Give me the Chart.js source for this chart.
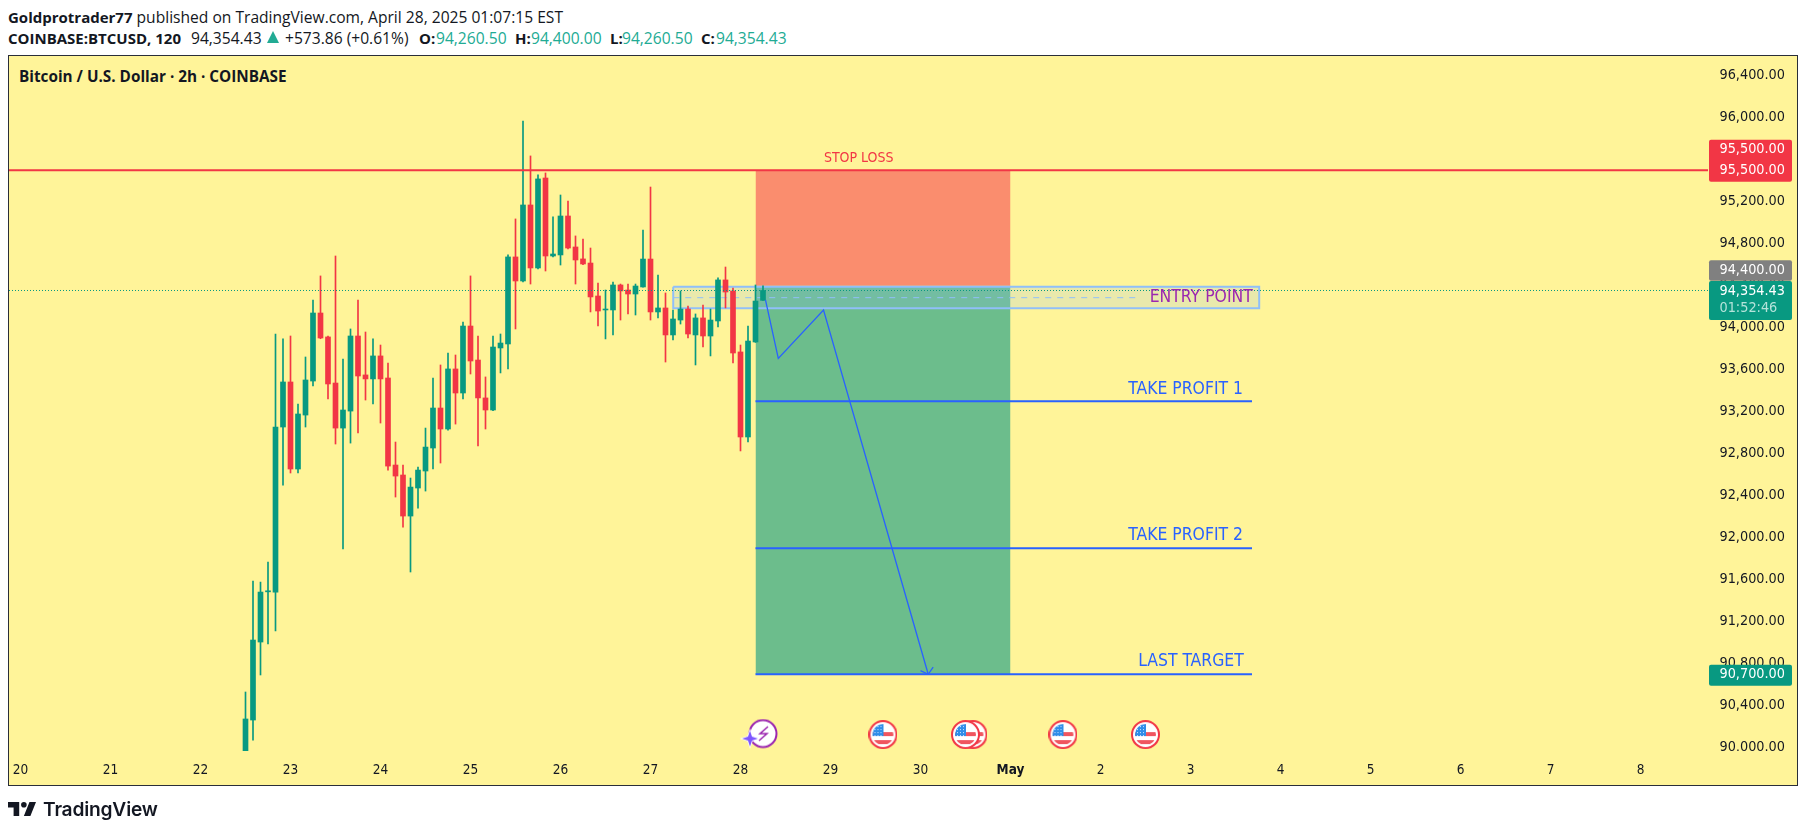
<!DOCTYPE html>
<html>
<head>
<meta charset="utf-8">
<title>BTCUSD</title>
<script src="https://cdn.jsdelivr.net/npm/chart.js"></script>
<style>
	html, body { margin: 0; padding: 0; background: #fff; overflow: hidden; width: 1807px; height: 833px; }
	body { font-family: "DejaVu Sans", sans-serif; color: #131722; }
	#pane { position: absolute; left: 8px; top: 55px; width: 1790px; height: 731px; box-sizing: border-box; border: 1.5px solid #2a2e39; background: #fff499; }
	#chart { position: absolute; left: 0; top: 0; }
	.row { position: absolute; white-space: nowrap; font-family: "Open Sans", sans-serif; font-size: 15.6px; line-height: 20px; }
	.row b { font-size: 15px; }
	.row span { position: absolute; top: 0; }
	.up { color: #22ab94; }
	#tri { width: 0; height: 0; border-left: 6.5px solid transparent; border-right: 6.5px solid transparent; border-bottom: 12px solid #22ab94; top: 3px !important; }
	#pair { position: absolute; left: 19px; top: 66px; font-family: "Open Sans", sans-serif; font-weight: 700; font-size: 15.3px; line-height: 20px; white-space: nowrap; }
	#tvlogo { position: absolute; left: 8px; top: 802px; }
	#tvname { position: absolute; left: 43px; top: 795px; font-family: Inter, sans-serif; font-weight: 600; font-size: 19.2px; line-height: 28px; color: #131722; letter-spacing: -0.2px; }
</style>
</head>
<body>
<div id="pane"></div>
<div class="row" style="left:8px;top:7px"><b>Goldprotrader77</b> published on TradingView.com, April 28, 2025 01:07:15 EST</div>
<div class="row" style="left:8px;top:28px;width:800px;height:20px">
	<span style="left:0"><b>COINBASE:BTCUSD, 120</b></span>
	<span style="left:183px">94,354.43</span>
	<span id="tri" style="left:259px"></span>
	<span style="left:277px">+573.86 (+0.61%)</span>
	<span style="left:411px"><b>O:</b></span><span class="up" style="left:428px">94,260.50</span>
	<span style="left:507px"><b>H:</b></span><span class="up" style="left:523px">94,400.00</span>
	<span style="left:602px"><b>L:</b></span><span class="up" style="left:614px">94,260.50</span>
	<span style="left:693px"><b>C:</b></span><span class="up" style="left:708px">94,354.43</span>
</div>
<div id="pair">Bitcoin / U.S. Dollar · 2h · COINBASE</div>
<canvas id="chart" width="1807" height="833"></canvas>
<svg id="tvlogo" width="28" height="14" viewBox="2 6 30 15"><path fill="#131722" d="M14 6H2v6h6v9h6V6Zm12 15h-7l6-15h7l-6 15Zm-7-9a3 3 0 1 0 0-6 3 3 0 0 0 0 6Z"/></svg>
<div id="tvname">TradingView</div>
<script>
// Candles are 2h apart, index 0 is the start of the 20th
var firstCandle = 30;
var opens = [89950,90263,91006,91484,91482,93054,93483,92654,93168,93492,94140,93912,93473,93044,93206,93921,93550,93512,93731,93521,
	92692,92597,92206,92473,92635,92854,93235,93035,93607,93378,94016,93692,93331,93216,93807,93845,94674,94445,95169,94569,
	95426,94683,94693,95064,94769,94655,94616,94302,94169,94169,94407,94359,94321,94388,94654,94150,94188,93931,94073,94178,
	93931,94093,93921,94064,94455,94350,93769,92959,93864,94260.5];
var highs = [90530,91587,91577,91768,93940,93893,93921,93273,93721,94264,94493,93921,94683,93702,93988,94264,93959,93893,93835,93664,
	92911,92692,92568,92673,93044,93521,93645,93759,93740,94054,94493,93921,93531,93921,93940,94693,95036,95969,95636,95455,
	95474,95055,95264,95207,94874,94845,94759,94426,94359,94435,94416,94416,94416,94931,95340,94502,94331,94169,94350,94207,
	94131,94216,94178,94474,94578,94378,93835,94016,94407,94400];
var lows = [89900,90072,90692,90987,91111,92501,92616,92616,93054,93445,93895,93321,92892,91892,92901,92997,93311,93273,93092,92644,
	92387,92101,91673,92282,92444,92654,92711,93025,93082,93321,93559,92873,93035,93210,93569,93607,93988,94435,94416,94560,
	94540,94674,94597,94750,94416,94600,94150,94016,93893,93931,94073,94131,94121,94385,94073,94093,93673,93883,94035,93902,
	93645,93816,93731,94007,94188,93664,92826,92911,93860,94260.5];
var closes = [90273,91025,91482,91494,93054,93483,92654,93178,93502,94140,93902,93464,93044,93216,93921,93540,93512,93731,93512,92682,
	92587,92206,92482,92644,92863,93235,93035,93607,93378,94016,93683,93331,93216,93816,93854,94674,94445,95169,94569,95417,
	94683,94702,95064,94759,94645,94607,94293,94159,94178,94407,94350,94321,94397,94654,94150,94188,93931,94083,94178,93940,
	94093,93921,94073,94455,94340,93759,92959,93873,94254,94354.43];

var tickLabels = ['20','21','22','23','24','25','26','27','28','29','30','May','2','3','4','5','6','7','8'];

// Drawn levels and positions, in price and candle index
var stopLoss = 95500, entryLevel = 94400, lastTarget = 90700, takeProfit1 = 93300, takeProfit2 = 91900, lastPrice = 94354.43;
var zoneStart = 98, zoneEnd = 132, targetEnd = 164.2;
var entryBoxX = [87.03, 165.16], entryBoxY = [94390, 94185], entryMid = 94286, entryMidEnd = 149.3;
var pathX = [99.33, 101.04, 107.07, 121.03], pathY = [94264, 93708, 94169, 90699];
var arrowX = [120, 121.03, 121.69], arrowY = [90733, 90699, 90766];
var noteTexts = ['STOP LOSS', 'ENTRY POINT', 'TAKE PROFIT 1', 'TAKE PROFIT 2', 'LAST TARGET'];
var noteX = [116.4, 164.3, 163, 163, 163.1], notePrices = [95612, 94290, 93415, 92024, 90816];
var eventX = [115, 127, 126, 139, 150], eventFlash = 99, eventPrice = 90124;

var textFont = '"DejaVu Sans Condensed", "DejaVu Sans", sans-serif';
var noteFont = '"DejaVu Sans Condensed", "Noto Sans", sans-serif';
var bg = '#fff499', green = '#089981', red = '#f23645', blue = '#2962ff';

function flatLine(x1, x2, price, color, width, dash) {
	return {
		type: 'line', data: [{x: x1, y: price}, {x: x2, y: price}], borderColor: color, borderWidth: width,
		borderDash: dash || [], pointRadius: 0, fill: false, order: 2
	};
}

function zone(x1, x2, top, bottom, color, order) {
	return {
		type: 'line', data: [{x: x1, y: top}, {x: x2, y: top}], borderWidth: 0, pointRadius: 0,
		fill: {value: bottom}, backgroundColor: color, order: order
	};
}

// The round badges of the calendar events
function flagIcon() {
	let c = document.createElement('canvas');
	c.width = 29; c.height = 29;
	let g = c.getContext('2d');
	g.beginPath(); g.arc(14.5, 14.5, 13.5, 0, Math.PI * 2);
	g.fillStyle = '#fff'; g.fill();
	g.lineWidth = 2; g.strokeStyle = red; g.stroke();
	g.save();
	g.beginPath(); g.arc(14.5, 14.5, 10.5, 0, Math.PI * 2); g.clip();
	g.fillStyle = '#f0555f';
	g.fillRect(4, 12, 22, 4); g.fillRect(4, 20, 22, 4);
	g.fillStyle = '#2f8de8';
	g.fillRect(4, 4, 11, 12);
	g.fillStyle = '#cfe6ff';
	for(let x = 6; x < 15; x += 3)
		for(let y = 6; y < 16; y += 3)
			g.fillRect(x, y, 1, 1);
	g.restore();
	return c;
}

function flashIcon() {
	let c = document.createElement('canvas');
	c.width = 56; c.height = 32;
	let g = c.getContext('2d');
	g.beginPath(); g.arc(28, 15, 13.5, 0, Math.PI * 2);
	g.fillStyle = '#fff'; g.fill();
	g.lineWidth = 2; g.strokeStyle = '#9c27b0'; g.stroke();
	g.strokeStyle = '#9c27b0'; g.lineWidth = 1.5;
	g.beginPath(); g.moveTo(33, 8); g.lineTo(25, 15); g.lineTo(32, 15); g.lineTo(24, 22); g.stroke();
	g.beginPath();
	g.moveTo(15, 12); g.lineTo(17, 18); g.lineTo(23, 20); g.lineTo(17, 22); g.lineTo(15, 28); g.lineTo(13, 22); g.lineTo(7, 20); g.lineTo(13, 18); g.closePath();
	g.fillStyle = '#7e57ff'; g.strokeStyle = '#fff'; g.lineWidth = 1.5;
	g.stroke(); g.fill();
	return c;
}

var candleColors = closes.map((c, i) => c >= opens[i] ? green : red);
var wicks = highs.map((h, i) => ({x: firstCandle + i, y: [lows[i], h]}));
var bodies = opens.map((o, i) => ({x: firstCandle + i, y: [o, closes[i]]}));

var xMin = -1.5333, xMax = 225, yMin = 89968, yMax = 96588;

// Notes on the chart and the tags on the price axis
var overlays = {
	id: 'overlays',
	afterDraw: function(chart) {
		let ctx = chart.ctx, x = chart.scales.x, y = chart.scales.y;
		ctx.save();
		ctx.textBaseline = 'middle';
		ctx.textAlign = 'right';
		noteTexts.forEach((text, i) => {
			ctx.font = (i === 0 ? '14px ' : '17.4px ') + noteFont;
			ctx.fillStyle = i === 0 ? red : (i === 1 ? '#9c27b0' : blue);
			ctx.fillText(text, x.getPixelForValue(noteX[i]), y.getPixelForValue(notePrices[i]));
		});
		// The price axis stops where the time axis starts
		ctx.fillStyle = bg;
		ctx.fillRect(x.right, y.bottom, 89, 12);
		ctx.textAlign = 'left';
		ctx.font = '14.3px ' + textFont;
		let tag = function(price, above, below, color) {
			let c = y.getPixelForValue(price);
			ctx.fillStyle = color;
			ctx.beginPath();
			ctx.roundRect(x.right + 1, c - above, 83, above + below, 2);
			ctx.fill();
		};
		let label = function(text, price, dy, color) {
			ctx.fillStyle = color;
			ctx.fillText(text, x.right + 11.5, y.getPixelForValue(price) + dy);
		};
		tag(stopLoss, 30.5, 11.5, red);
		label('95,500.00', stopLoss, -21, '#fff');
		label('95,500.00', stopLoss, 0.5, '#fff');
		tag(lastPrice, 9.5, 29.5, green);
		tag(entryLevel, 25.5, -5, '#808080');
		label('94,400.00', entryLevel, -15.5, '#fff');
		label('94,354.43', lastPrice, 1, '#fff');
		label('01:52:46', lastPrice, 18, '#b5e3da');
		tag(lastTarget, 9.5, 11.5, green);
		label('90,700.00', lastTarget, 0.5, '#fff');
		ctx.restore();
	}
};

var ctx = document.getElementById('chart').getContext('2d');
var chartJsOptions = {
	type: 'bar',
	data: {
		datasets: [
			{data: bodies, backgroundColor: candleColors, barThickness: 5, grouped: false, borderSkipped: false, order: 3},
			{data: wicks, backgroundColor: candleColors, barThickness: 1, grouped: false, borderSkipped: false, order: 4},
			zone(zoneStart, zoneEnd, stopLoss, entryLevel, '#fa8d6e', 10),
			zone(zoneStart, zoneEnd, entryLevel, lastTarget, '#6cbd8c', 10),
			zone(entryBoxX[0], entryBoxX[1], entryBoxY[0], entryBoxY[1], 'rgba(144,191,249,0.2)', 6),
			{
				type: 'line', borderColor: '#90bff9', borderWidth: 2, pointRadius: 0, fill: false, order: 5,
				data: [
					{x: entryBoxX[0], y: entryBoxY[0]}, {x: entryBoxX[1], y: entryBoxY[0]}, {x: entryBoxX[1], y: entryBoxY[1]},
					{x: entryBoxX[0], y: entryBoxY[1]}, {x: entryBoxX[0], y: entryBoxY[0]}
				]
			},
			Object.assign(flatLine(entryBoxX[0], entryMidEnd, entryMid, '#90bff9', 1, [6, 6]), {order: 5}),
			flatLine(xMin, xMax, stopLoss, red, 2),
			flatLine(xMin, xMax, lastPrice, green, 1, [1, 2]),
			flatLine(zoneStart, targetEnd, takeProfit1, blue, 2),
			flatLine(zoneStart, targetEnd, takeProfit2, blue, 2),
			flatLine(zoneStart, targetEnd, lastTarget, blue, 2),
			{
				type: 'line', data: pathX.map((v, i) => ({x: v, y: pathY[i]})), borderColor: blue, borderWidth: 1.3,
				pointRadius: 0, fill: false, order: 2
			},
			{
				type: 'line', data: arrowX.map((v, i) => ({x: v, y: arrowY[i]})), borderColor: blue, borderWidth: 1.3,
				pointRadius: 0, fill: false, order: 2
			},
			{
				type: 'line', showLine: false, data: eventX.map(v => ({x: v, y: eventPrice})), pointStyle: flagIcon(),
				pointRadius: 14, order: 1
			},
			{
				type: 'line', showLine: false, data: [{x: eventFlash, y: eventPrice}], pointStyle: flashIcon(),
				pointRadius: 14, order: 1
			}
		]
	},
	options: {
		responsive: false,
		animation: false,
		events: [],
		layout: { autoPadding: false, padding: { left: 9, top: 56, right: 9, bottom: 47 } },
		plugins: { legend: { display: false }, tooltip: { enabled: false } },
		scales: {
			x: {
				type: 'linear',
				offset: false,
				min: xMin,
				max: xMax,
				grid: { display: false, drawTicks: false, offset: false },
				border: { display: false },
				afterFit: function(scale) {
					scale.height = 35;
				},
				ticks: {
					stepSize: 12,
					includeBounds: false,
					autoSkip: false,
					maxRotation: 0,
					padding: 11,
					color: '#131722',
					font: function(c) {
						return { family: textFont, size: 13.5, weight: tickLabels[c.index] === 'May' ? 'bold' : 'normal' };
					},
					callback: function(value) { return tickLabels[value / 12]; }
				}
			},
			y: {
				position: 'right',
				min: yMin,
				max: yMax,
				grid: { display: false, drawTicks: false },
				border: { display: false },
				afterFit: function(scale) {
					scale.width = 90;
				},
				ticks: {
					stepSize: 400,
					includeBounds: false,
					padding: 11.5,
					crossAlign: 'near',
					color: '#131722',
					font: { family: textFont, size: 14.3 },
					callback: function(value) {
						return value.toLocaleString('en-US', { minimumFractionDigits: 2 });
					}
				}
			}
		}
	},
	plugins: [overlays]
};
var chart = new Chart(ctx, chartJsOptions);
</script>
</body>
</html>
